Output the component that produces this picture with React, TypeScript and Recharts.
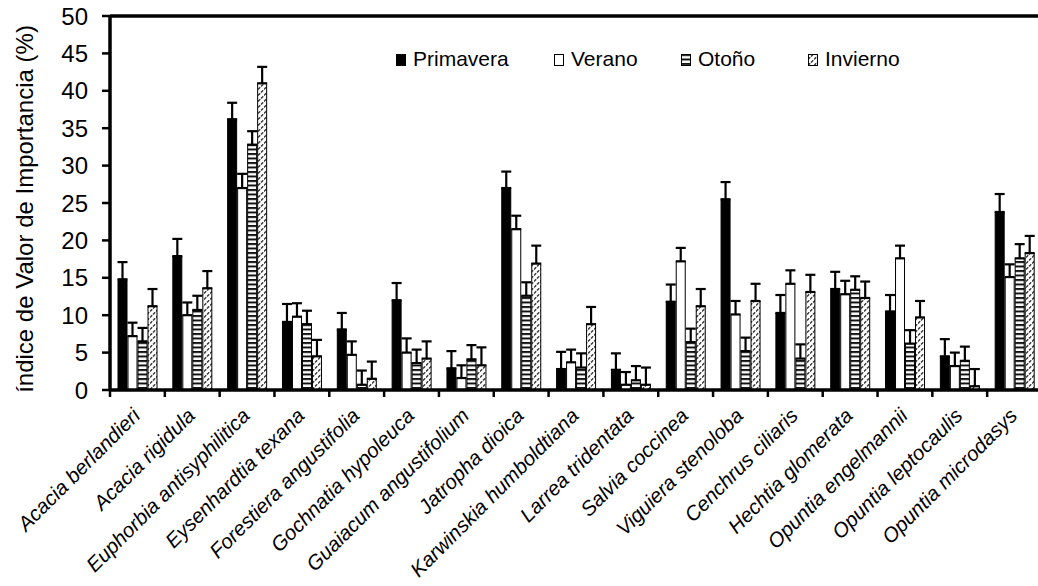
import React from 'react'
import { BarChart, Bar, XAxis, YAxis, ErrorBar, Legend, ReferenceLine } from 'recharts'

const FONT = '"Liberation Sans", Arial, Helvetica, sans-serif'

const SPECIES = [
  'Acacia berlandieri', 'Acacia rigidula', 'Euphorbia antisyphilitica', 'Eysenhardtia texana',
  'Forestiera angustifolia', 'Gochnatia hypoleuca', 'Guaiacum angustifolium', 'Jatropha dioica',
  'Karwinskia humboldtiana', 'Larrea tridentata', 'Salvia coccinea', 'Viguiera stenoloba',
  'Cenchrus ciliaris', 'Hechtia glomerata', 'Opuntia engelmannii', 'Opuntia leptocaulis',
  'Opuntia microdasys',
]

// valores (%) y error estandar, por estacion
const PRIMAVERA = [14.8, 17.9, 36.2, 9.1, 8.1, 12.0, 2.9, 27.0, 2.8, 2.7, 11.8, 25.5, 10.3, 13.5, 10.5, 4.5, 23.8]
const PRIMAVERA_ERR = [2.3, 2.3, 2.2, 2.4, 2.2, 2.3, 2.3, 2.2, 2.3, 2.2, 2.3, 2.3, 2.4, 2.3, 2.2, 2.3, 2.4]
const VERANO = [7.2, 10.0, 27.0, 9.8, 4.7, 5.0, 1.6, 21.5, 3.7, 0.7, 17.2, 10.1, 14.2, 12.8, 17.6, 3.2, 15.1]
const VERANO_ERR = [1.8, 1.7, 1.9, 1.8, 1.8, 1.9, 1.7, 1.8, 1.7, 1.7, 1.8, 1.8, 1.8, 1.8, 1.7, 1.8, 1.7]
const OTONO = [6.5, 10.7, 32.8, 8.8, 0.7, 3.6, 4.1, 12.6, 3.0, 1.3, 6.4, 5.2, 4.2, 13.4, 6.2, 3.9, 17.6]
const OTONO_ERR = [1.8, 1.9, 1.8, 1.8, 1.9, 1.8, 1.9, 1.8, 1.9, 1.9, 1.8, 1.8, 1.9, 1.8, 1.8, 1.9, 1.9]
const INVIERNO = [11.2, 13.6, 41.0, 4.5, 1.5, 4.2, 3.3, 16.9, 8.8, 0.7, 11.2, 11.9, 13.1, 12.3, 9.7, 0.5, 18.3]
const INVIERNO_ERR = [2.3, 2.3, 2.2, 2.2, 2.3, 2.3, 2.4, 2.4, 2.3, 2.3, 2.3, 2.3, 2.3, 2.2, 2.2, 2.3, 2.3]

const Y_TICKS = [0, 5, 10, 15, 20, 25, 30, 35, 40, 45, 50]

const SERIES = [
  { key: 'primavera', name: 'Primavera', fill: '#000' },
  { key: 'verano', name: 'Verano', fill: '#fff' },
  { key: 'otono', name: 'Otoño', fill: 'url(#pat-otono)' },
  { key: 'invierno', name: 'Invierno', fill: 'url(#pat-invierno)' },
]

const data = SPECIES.map((name, i) => ({
  name,
  primavera: PRIMAVERA[i],
  primaveraErr: [0, PRIMAVERA_ERR[i]],
  verano: VERANO[i],
  veranoErr: [0, VERANO_ERR[i]],
  otono: OTONO[i],
  otonoErr: [0, OTONO_ERR[i]],
  invierno: INVIERNO[i],
  inviernoErr: [0, INVIERNO_ERR[i]],
}))

const Patterns = () => (
  <defs>
    <pattern id="pat-otono" patternUnits="userSpaceOnUse" width={6} height={4.5}>
      <rect width={6} height={4.5} fill="#fff" />
      <rect width={6} height={2} fill="#111" />
    </pattern>
    <pattern id="pat-invierno" patternUnits="userSpaceOnUse" width={6} height={6}>
      <rect width={6} height={6} fill="#fff" />
      <path d="M0,5.5 L2.2,3.3 M3,2.5 L5.2,0.3" stroke="#333" strokeWidth={1.4} />
    </pattern>
  </defs>
)

// etiqueta de especie inclinada + marca de division entre categorias
const SpeciesTick = ({ x, y, payload }: any) => {
  const edge = x - (payload.offset ?? 0)
  const tx = x + 4
  const ty = y + 27
  return (
    <g>
      <line x1={edge} y1={y} x2={edge} y2={y + 7} stroke="#000" strokeWidth={2.5} />
      <text
        x={tx}
        y={ty}
        transform={`rotate(-45, ${tx}, ${ty})`}
        textAnchor="end"
        fontStyle="italic"
        fontSize={20.5}
        fontFamily={FONT}
        fill="#000"
      >
        {payload.value}
      </text>
    </g>
  )
}

const YLabel = (props: any) => {
  const { viewBox } = props
  const x = viewBox.x + 33
  const y = viewBox.y + viewBox.height / 2 + 6
  return (
    <text x={x} y={y} transform={`rotate(-90, ${x}, ${y})`} textAnchor="middle" fontSize={24} fontFamily={FONT} fill="#000">
      índice de Valor de Importancia (%)
    </text>
  )
}

const LEGEND_WIDTHS = [158, 127, 127, 110]

const SeasonLegend = () => (
  <div style={{ display: 'flex', fontFamily: FONT, fontSize: 21, lineHeight: '24px', color: '#000' }}>
    {SERIES.map((s, i) => (
      <div key={s.key} style={{ display: 'flex', alignItems: 'center', width: LEGEND_WIDTHS[i] }}>
        <svg width={11} height={13} style={{ marginRight: 6, marginTop: 2 }}>
          <rect x={0.5} y={0.5} width={9} height={11} fill={s.fill} stroke="#000" strokeWidth={1} />
        </svg>
        <span>{s.name}</span>
      </div>
    ))}
  </div>
)

export default function App() {
  return (
    <div style={{ position: 'absolute', left: 0, top: 0, width: 1038, height: 586, overflow: 'hidden', background: '#fff' }}>
      <BarChart
        width={1060}
        height={586}
        data={data}
        margin={{ top: 16, right: 18, bottom: 0, left: 0 }}
        barSize={9}
        barGap={1}
      >
        <Patterns />
        <XAxis
          dataKey="name"
          interval={0}
          height={196}
          tickSize={0}
          tickMargin={0}
          tickLine={false}
          axisLine={{ stroke: '#000', strokeWidth: 3.5 }}
          tick={<SpeciesTick />}
        />
        <YAxis
          domain={[0, 50]}
          ticks={Y_TICKS}
          interval={0}
          width={110}
          tickSize={8}
          tickMargin={14}
          axisLine={{ stroke: '#000', strokeWidth: 3.5 }}
          tickLine={{ stroke: '#000', strokeWidth: 2.5 }}
          tick={{ fill: '#000', fontSize: 24, fontFamily: FONT }}
          label={<YLabel />}
        />
        <ReferenceLine y={50} stroke="#000" strokeWidth={3.5} />
        <Legend
          layout="horizontal"
          verticalAlign="middle"
          align="center"
          wrapperStyle={{ top: 47, left: 396, width: 560 }}
          content={<SeasonLegend />}
        />
        {SERIES.map((s) => (
          <Bar key={s.key} dataKey={s.key} name={s.name} fill={s.fill} stroke="#000" strokeWidth={1} isAnimationActive={false}>
            <ErrorBar dataKey={`${s.key}Err`} width={5} stroke="#000" strokeWidth={2.2} direction="y" isAnimationActive={false} />
          </Bar>
        ))}
      </BarChart>
    </div>
  )
}
